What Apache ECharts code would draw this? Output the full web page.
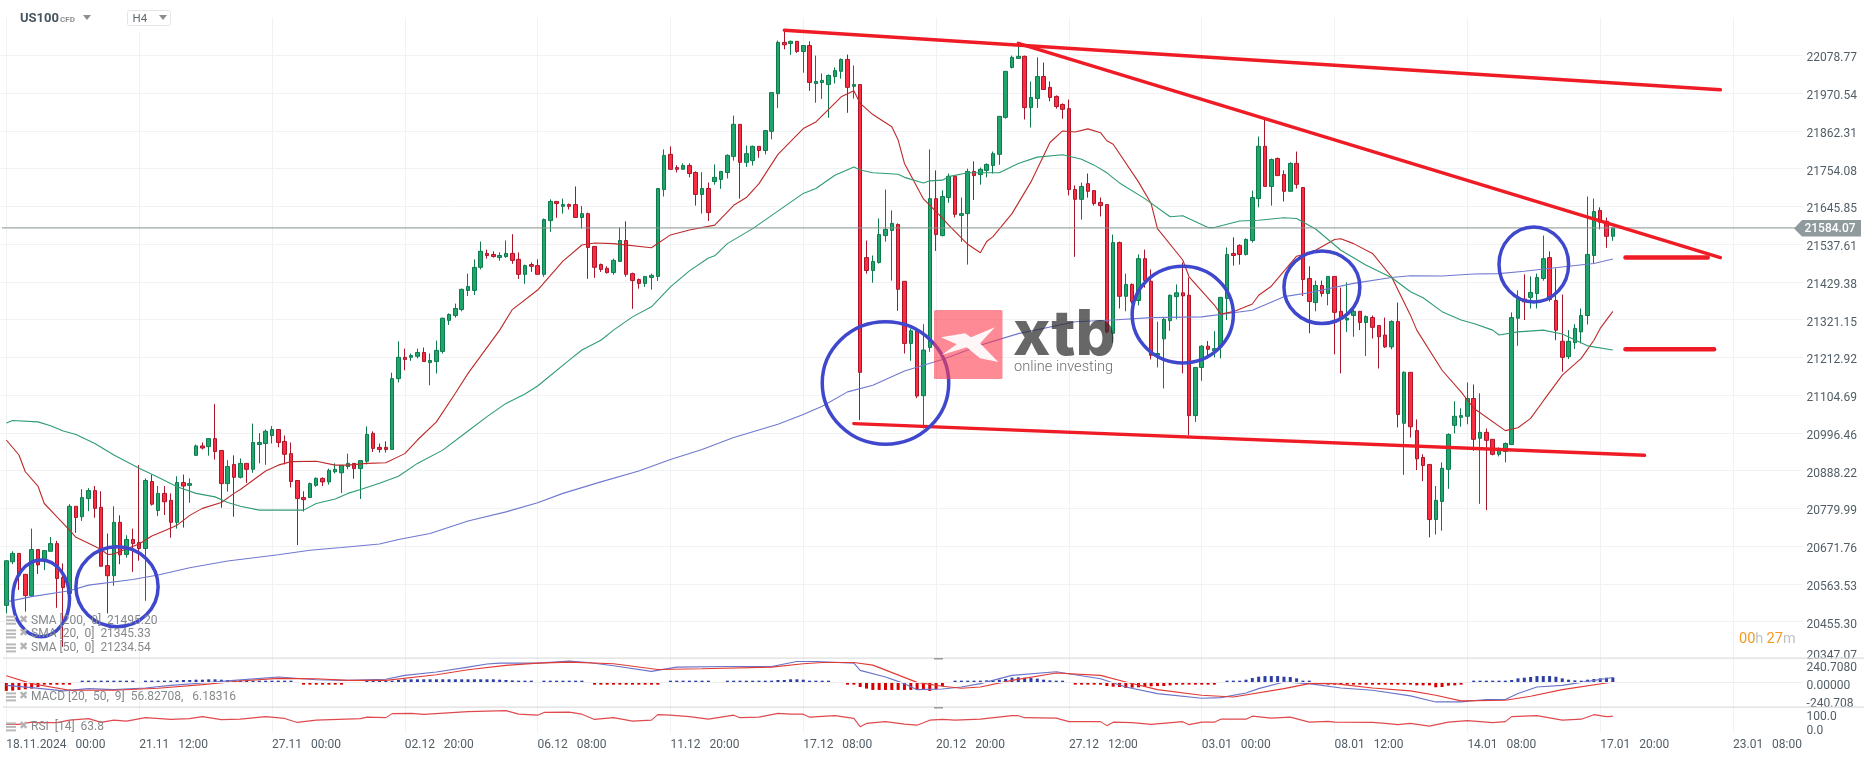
<!DOCTYPE html>
<html>
<head>
<meta charset="utf-8">
<title>US100 H4</title>
<script src="https://cdn.jsdelivr.net/npm/echarts@6/dist/echarts.min.js"></script>
<style>
  html, body { margin: 0; padding: 0; background: #fff; }
  #chart { width: 1866px; height: 759px; }
</style>
</head>
<body>
<div id="chart"></div>
<script>
const tickLabels = ["18.11.2024   00:00", "21.11   12:00", "27.11   00:00", "02.12   20:00", "06.12   08:00", "11.12   20:00", "17.12   08:00", "20.12   20:00", "27.12   12:00", "03.01   00:00", "08.01   12:00", "14.01   08:00", "17.01   20:00", "23.01   08:00"];
const priceLabels = ["20347.07", "20455.30", "20563.53", "20671.76", "20779.99", "20888.22", "20996.46", "21104.69", "21212.92", "21321.15", "21429.38", "21537.61", "21645.85", "21754.08", "21862.31", "21970.54", "22078.77"];
const lastPrice = 21584.07;

const opens = [
  20502,20627,20651,20591,20530,20662,20634,20657,20679,20582,
  20536,20786,20756,20808,20831,20783,20616,20587,20740,20648,
  20691,20682,20665,20857,20774,20823,20803,20740,20854,20846,
  20932,20959,20957,20980,20946,20851,20906,20869,20909,20892,
  20963,20966,20989,21006,20972,20937,20860,20811,20811,20846,
  20866,20856,20885,20882,20900,20909,20894,20915,20995,20955,
  20955,20949,21152,21213,21213,21216,21227,21198,21201,21230,
  21319,21333,21350,21405,21405,21471,21511,21508,21499,21502,
  21511,21494,21451,21479,21476,21451,21605,21660,21646,21651,
  21651,21614,21625,21531,21479,21468,21456,21488,21548,21453,
  21436,21425,21442,21445,21694,21795,21757,21752,21763,21743,
  21680,21697,21717,21723,21743,21789,21881,21772,21777,21818,
  21806,21861,21969,22116,22113,22119,22090,22107,21998,22001,
  21995,22018,22033,22067,21990,21995,21499,21462,21485,21562,
  21577,21594,21431,21253,21289,21103,21241,21668,21562,21671,
  21732,21620,21625,21746,21737,21749,21763,21795,21901,22044,
  22070,22076,21929,21955,22018,21987,21961,21938,21926,21694,
  21666,21711,21691,21657,21651,21282,21542,21388,21422,21376,
  21496,21431,21219,21266,21318,21387,21398,21391,21046,21184,
  21245,21232,21243,21382,21511,21534,21508,21548,21668,21818,
  21703,21783,21737,21689,21769,21700,21439,21370,21419,21396,
  21445,21345,21320,21333,21345,21313,21327,21304,21277,21243,
  21316,21024,21170,21003,20926,20906,20748,20800,20892,21018,
  21041,21044,21095,20981,20998,20978,20935,20943,20963,21325,
  21380,21385,21396,21439,21499,21376,21259,21215,21255,21286,
  21333,21505,21634,21603,21560
];
const closes = [
  20630,20651,20589,20530,20662,20618,20659,20679,20579,20553,
  20786,20754,20811,20831,20780,20614,20587,20740,20647,20691,
  20679,20665,20860,20792,20823,20799,20740,20854,20844,20851,
  20959,20953,20980,20943,20851,20900,20869,20909,20892,20969,
  20969,21001,21006,20969,20935,20857,20808,20805,20851,20866,
  20856,20889,20892,20903,20909,20894,20917,20992,20952,20949,
  20949,21152,21213,21207,21218,21227,21201,21204,21233,21325,
  21336,21353,21408,21416,21471,21517,21505,21502,21505,21511,
  21491,21451,21476,21474,21451,21608,21660,21654,21651,21646,
  21614,21625,21528,21471,21465,21456,21491,21548,21451,21433,
  21425,21445,21448,21697,21792,21752,21752,21763,21740,21680,
  21697,21628,21729,21746,21792,21881,21772,21797,21818,21806,
  21863,21972,22116,22109,22119,22090,22107,22001,22004,22007,
  22021,22035,22067,21987,21995,21170,21462,21488,21565,21580,
  21597,21408,21253,21289,21102,21234,21668,21565,21674,21732,
  21623,21625,21746,21734,21752,21766,21797,21904,22033,22073,
  22076,21929,21958,22018,21981,21958,21932,21924,21694,21666,
  21703,21689,21654,21648,21286,21542,21388,21422,21373,21496,
  21433,21219,21224,21322,21391,21398,21389,21046,21184,21245,
  21236,21238,21385,21508,21505,21508,21551,21671,21818,21703,
  21780,21734,21689,21769,21709,21436,21373,21419,21396,21445,
  21342,21325,21325,21345,21313,21330,21299,21272,21243,21316,
  21049,21170,21014,20922,20903,20748,20803,20895,20992,21044,
  21046,21095,20978,20998,20975,20935,20946,20966,21327,21382,
  21372,21399,21442,21496,21379,21291,21213,21259,21296,21333,
  21508,21631,21600,21560,21584
];
const lows = [
  20479,20620,20546,20484,20527,20592,20603,20657,20495,20383,
  20531,20710,20744,20772,20753,20614,20479,20558,20620,20639,
  20598,20630,20515,20788,20758,20761,20696,20722,20725,20796,
  20932,20949,20931,20920,20782,20828,20756,20866,20853,20882,
  20909,20905,20966,20955,20906,20840,20675,20771,20810,20842,
  20844,20848,20880,20824,20892,20865,20807,20906,20942,20940,
  20940,20949,21141,21176,21203,21210,21200,21133,21167,21224,
  21306,21327,21345,21389,21392,21465,21496,21499,21490,21498,
  21481,21438,21424,21458,21451,21444,21573,21613,21625,21637,
  21613,21582,21438,21441,21458,21453,21450,21488,21444,21352,
  21410,21415,21407,21432,21674,21752,21743,21752,21729,21648,
  21625,21604,21708,21696,21726,21777,21668,21759,21763,21785,
  21795,21838,21928,22096,22080,22086,22029,21977,21943,21954,
  21900,21998,22012,21914,21955,21033,21453,21427,21482,21545,
  21433,21346,21224,21203,21096,21009,21229,21518,21560,21656,
  21614,21544,21479,21664,21708,21729,21740,21765,21897,22041,
  22070,21895,21872,21928,21981,21947,21926,21897,21677,21501,
  21608,21671,21648,21617,21282,21255,21353,21345,21367,21362,
  21413,21207,21184,21124,21289,21322,21167,20990,21028,21146,
  21219,21213,21210,21320,21476,21479,21505,21542,21643,21703,
  21648,21734,21660,21689,21697,21389,21282,21345,21387,21362,
  21222,21167,21286,21272,21291,21217,21267,21181,21240,21236,
  21012,20876,20983,20890,20858,20697,20705,20716,20836,20995,
  21014,21021,20945,20793,20775,20932,20929,20912,20963,21246,
  21320,21353,21353,21433,21373,21262,21172,21208,21237,21253,
  21307,21482,21580,21527,21547
];
const highs = [
  20630,20657,20651,20591,20722,20662,20659,20698,20687,20622,
  20792,20786,20835,20838,20844,20829,20708,20786,20760,20703,
  20722,20904,20866,20877,20844,20844,20823,20872,20877,20866,
  20963,20969,20980,21079,20946,20918,20932,20923,20909,21023,
  20996,21006,21016,21006,20989,20969,20860,20829,20854,20869,
  20869,20894,20909,20903,20937,20909,20917,21015,21001,20966,
  20972,21169,21259,21238,21224,21238,21241,21224,21261,21327,
  21339,21367,21410,21453,21494,21545,21522,21517,21514,21548,
  21566,21514,21479,21485,21494,21611,21666,21660,21668,21654,
  21703,21647,21628,21531,21482,21474,21496,21585,21603,21456,
  21439,21445,21453,21697,21809,21818,21764,21769,21769,21746,
  21744,21714,21766,21746,21795,21906,21881,21820,21820,21818,
  21863,21972,22121,22151,22121,22119,22107,22119,22078,22027,
  22024,22044,22070,22081,22050,21995,21548,21505,21611,21694,
  21634,21597,21431,21296,21289,21308,21809,21749,21692,21740,
  21732,21671,21754,21775,21757,21769,21803,21904,22033,22078,
  22113,22078,22004,22073,22058,22004,21964,21941,21952,21706,
  21714,21740,21691,21671,21651,21565,21545,21453,21425,21508,
  21522,21465,21315,21329,21393,21422,21485,21442,21184,21248,
  21260,21288,21385,21528,21557,21537,21554,21691,21846,21895,
  21783,21786,21749,21772,21803,21700,21474,21433,21433,21445,
  21445,21413,21428,21353,21345,21333,21333,21304,21327,21319,
  21370,21173,21170,21035,20935,20906,20844,20912,20995,21087,
  21067,21141,21135,21110,21009,20978,20955,20969,21342,21405,
  21451,21445,21453,21562,21517,21468,21393,21291,21308,21353,
  21674,21668,21643,21614,21585
];

// moving averages read at [candle number, price]
const sma20 = [[0,20976],[2,20933],[3,20885],[5,20844],[6,20794],[8,20756],[10,20718],[11,20697],[13,20680],[15,20662],[16,20648],[17,20649],[19,20664],[21,20678],[23,20701],[25,20716],[27,20732],[29,20760],[31,20780],[34,20797],[36,20823],[37,20834],[41,20887],[43,20904],[45,20914],[49,20915],[52,20904],[54,20904],[57,20909],[60,20911],[63,20937],[65,20976],[68,21028],[71,21110],[73,21167],[78,21291],[80,21350],[84,21406],[88,21489],[91,21535],[93,21541],[96,21539],[102,21527],[105,21564],[108,21578],[112,21592],[115,21649],[117,21671],[119,21711],[122,21795],[126,21869],[128,21888],[132,21960],[134,21977],[135,21941],[137,21909],[140,21874],[141,21836],[142,21769],[145,21667],[148,21612],[149,21592],[152,21537],[154,21513],[155,21545],[156,21559],[159,21625],[162,21716],[165,21829],[167,21862],[169,21859],[171,21868],[173,21857],[174,21834],[175,21824],[179,21716],[181,21654],[182,21582],[186,21492],[187,21444],[191,21363],[192,21337],[194,21344],[197,21366],[198,21391],[200,21417],[204,21503],[205,21508],[207,21520],[210,21551],[211,21553],[213,21539],[216,21511],[219,21444],[222,21334],[223,21291],[227,21176],[230,21114],[232,21067],[237,21003],[239,21011],[241,21038],[243,21088],[246,21162],[249,21210],[251,21262],[252,21296],[254,21345]];
const sma50 = [[0,21025],[1,21032],[5,21028],[7,21017],[9,21002],[11,20992],[14,20966],[17,20933],[21,20895],[24,20869],[27,20842],[30,20823],[33,20813],[35,20797],[37,20786],[40,20775],[47,20775],[49,20794],[52,20807],[54,20823],[56,20834],[59,20852],[62,20872],[65,20909],[69,20947],[73,21002],[76,21043],[79,21081],[82,21108],[84,21131],[89,21205],[91,21234],[94,21262],[96,21291],[99,21329],[102,21358],[105,21415],[108,21461],[111,21498],[112,21504],[114,21539],[118,21582],[123,21645],[126,21683],[128,21697],[131,21735],[134,21759],[135,21750],[137,21742],[141,21738],[142,21729],[145,21713],[146,21719],[148,21721],[149,21731],[152,21742],[157,21742],[160,21769],[163,21787],[167,21794],[170,21781],[172,21764],[174,21742],[176,21713],[180,21668],[184,21616],[186,21619],[190,21585],[191,21585],[195,21604],[198,21606],[202,21613],[204,21611],[207,21581],[211,21520],[215,21477],[219,21442],[222,21401],[224,21384],[227,21344],[230,21320],[232,21310],[235,21291],[236,21277],[239,21286],[243,21291],[246,21280],[250,21246],[254,21234]];
const sma200 = [[0,20512],[4,20527],[10,20544],[13,20560],[20,20576],[24,20589],[29,20610],[35,20629],[43,20647],[48,20660],[53,20668],[59,20678],[62,20691],[67,20708],[73,20744],[79,20770],[84,20796],[88,20823],[94,20856],[100,20887],[105,20920],[110,20949],[115,20983],[122,21021],[126,21049],[129,21073],[133,21114],[137,21133],[142,21174],[148,21207],[154,21248],[160,21281],[169,21315],[175,21320],[181,21327],[189,21329],[197,21348],[202,21387],[206,21398],[213,21425],[219,21442],[222,21447],[227,21446],[232,21452],[236,21453],[240,21460],[247,21474],[251,21482],[254,21495]];

const macdHist = [
  -111,-107,-98,-89,-80,-58,-22,-18,-13,-13,
  -9,0,9,9,9,9,9,9,9,9,
  9,0,9,13,13,22,27,31,36,36,
  40,40,45,45,40,36,36,31,27,22,
  22,18,13,13,9,9,0,-9,-9,-9,
  -9,-9,-9,-9,0,0,0,9,9,9,
  9,13,36,45,45,45,45,45,45,45,
  45,45,45,45,45,45,45,45,40,36,
  31,18,9,9,0,9,9,9,18,18,
  9,9,0,-9,-9,-18,-27,-22,-27,-27,
  -27,-27,-27,-13,0,9,13,18,18,18,
  13,9,0,0,9,9,9,9,9,9,
  9,9,36,36,45,45,40,27,13,9,
  9,0,0,-9,-9,-58,-80,-98,-98,-98,
  -98,-98,-98,-98,-98,-98,-111,-89,-45,0,
  9,9,13,22,27,31,36,40,49,67,
  71,67,62,54,40,31,22,13,0,-9,
  -9,-13,-18,-27,-45,-54,-58,-71,-67,-62,
  -54,-49,-45,-45,-36,-27,-22,-22,-18,-18,
  -13,-9,0,9,18,27,40,62,80,89,
  89,89,80,76,58,27,9,0,0,-9,
  -9,-13,-18,-18,-18,-13,-18,-13,-13,-13,
  -13,-13,-13,-36,-36,-36,-62,-58,-40,-36,
  -13,0,9,9,9,9,9,9,36,58,
  67,76,89,89,89,80,58,40,31,27,
  40,49,58,67,71
];
const macdLine = [[0,-36],[4,-67],[9,-111],[13,-80],[17,-94],[22,-71],[26,-36],[31,-4],[36,31],[43,76],[49,40],[54,31],[60,45],[63,98],[68,143],[73,209],[76,250],[78,263],[84,263],[89,290],[92,272],[96,227],[102,152],[106,209],[114,218],[121,218],[125,285],[128,285],[134,263],[135,165],[139,76],[142,-13],[144,-94],[148,-85],[151,-58],[154,-13],[159,98],[166,147],[173,53],[177,-58],[182,-147],[189,-209],[192,-201],[196,-138],[198,-80],[202,9],[206,-13],[211,-71],[216,-103],[222,-178],[226,-259],[230,-259],[234,-227],[237,-227],[239,-147],[242,-58],[246,-36],[254,70]];
const macdSignal = [[0,94],[4,-13],[10,-103],[17,-103],[24,-76],[31,-27],[37,22],[43,58],[49,53],[54,31],[60,31],[68,107],[73,174],[79,232],[84,263],[89,276],[96,254],[103,178],[110,187],[121,209],[126,254],[129,272],[134,272],[137,236],[144,4],[148,-49],[151,-76],[154,-58],[159,31],[166,129],[173,98],[177,9],[182,-94],[189,-169],[194,-192],[202,-80],[206,-13],[210,-13],[216,-71],[222,-111],[226,-169],[230,-245],[237,-236],[241,-183],[246,-94],[254,9]];
const rsi = [[0,32],[2,32],[4,41],[5,39],[8,39],[10,49],[13,55],[15,40],[17,49],[19,45],[22,59],[26,52],[29,55],[31,63],[34,51],[37,53],[41,63],[44,56],[46,40],[49,49],[56,55],[57,61],[60,59],[61,75],[64,76],[66,72],[73,83],[79,87],[81,73],[84,69],[85,80],[89,81],[91,73],[93,52],[96,59],[99,45],[102,49],[103,71],[105,69],[108,63],[111,53],[115,69],[116,59],[119,61],[122,76],[124,73],[126,73],[127,61],[131,67],[134,56],[135,23],[136,36],[139,43],[142,33],[144,29],[146,49],[148,52],[150,49],[154,53],[159,67],[160,67],[161,59],[166,57],[168,43],[173,43],[174,27],[175,41],[178,39],[181,32],[186,43],[187,31],[189,41],[191,41],[192,53],[196,53],[197,65],[200,57],[203,61],[206,41],[209,44],[210,41],[216,40],[218,36],[220,31],[222,36],[225,25],[228,41],[231,47],[235,39],[237,43],[238,63],[242,67],[246,49],[249,53],[251,71],[253,63],[254,64]];

// hand drawn marks on the chart: [candle number, price]
const trendTop = [[123,22151],[271,21980]];
const trendFalling = [[160,22113],[271,21499]];
const trendBottom = [[134,21023],[259,20932]];
const levelUpper = [[256,21499],[269,21499]];
const levelLower = [[256,21236],[270,21236]];
// ellipses: [left candle, right candle, top price, bottom price]
const circles = [
  [1,10,20632,20412],
  [11,24,20670,20441],
  [129,149,21315,20964],
  [178,194,21474,21197],
  [202,214,21518,21310],
  [236,247,21587,21372]
];

const PAD = 1; // one empty slot before the first candle
const SLOTS = 286;
const PRICE_MIN = 20347.07;
const PRICE_STEP = 108.23125;
const categories = [];
for (let i = 0; i < SLOTS; i++) categories.push(String(i));
const isTick = (idx) => idx >= PAD && (idx - PAD) % 21 === 0;

const candles = [["-", "-", "-", "-"]];
opens.forEach((o, i) => candles.push([o, closes[i], lows[i], highs[i]]));
const shift = (rows) => rows.map((r) => [r[0] + PAD, r[1]]);

const gridLine = { show: true, lineStyle: { color: "#f1f2f3", width: 1 } };
const FONT = "Roboto";
const textColor = "#525e66";

function xAxis(gridIndex, showLabel) {
  return {
    type: "category",
    gridIndex: gridIndex,
    data: categories,
    boundaryGap: false,
    axisLine: { show: false },
    axisTick: { show: false },
    splitLine: Object.assign({ interval: (idx) => isTick(idx) }, gridLine),
    axisLabel: {
      show: showLabel,
      interval: (idx) => isTick(idx),
      formatter: (v, idx) => tickLabels[(Number(v) - PAD) / 21] || "",
      align: "left",
      margin: 7,
      fontFamily: FONT,
      fontSize: 12,
      color: textColor,
    },
  };
}

function thinLine(name, rows, color, xIdx, width) {
  return {
    name: name,
    type: "line",
    xAxisIndex: xIdx,
    yAxisIndex: xIdx,
    data: shift(rows),
    showSymbol: false,
    silent: true,
    z: 4,
    lineStyle: { color: color, width: width || 1.1 },
  };
}

function drawnLine(rows, width) {
  return {
    type: "line",
    data: shift(rows),
    showSymbol: false,
    silent: true,
    z: 6,
    lineStyle: { color: "#ef1c26", width: width, cap: "round" },
  };
}

const option = {
  animation: false,
  backgroundColor: "#fff",
  grid: [
    { left: 0, width: 1802.6, top: 17.6, height: 641.8 },
    { left: 0, width: 1802.6, top: 658.5, height: 48.7 },
    { left: 0, width: 1802.6, top: 707.4, height: 25 },
  ],
  xAxis: [xAxis(0, false), xAxis(1, false), xAxis(2, true)],
  yAxis: [
    {
      type: "value",
      gridIndex: 0,
      position: "right",
      min: PRICE_MIN,
      max: 22187,
      interval: PRICE_STEP,
      axisLine: { show: false },
      axisTick: { show: false },
      splitLine: Object.assign({ showMaxLine: false, showMinLine: false }, gridLine),
      axisLabel: {
        showMaxLabel: false,
        verticalAlign: "top",
        lineHeight: 6,
        verticalAlignMinLabel: "bottom",
        formatter: (v) => priceLabels[Math.round((v - PRICE_MIN) / PRICE_STEP)] || "",
        margin: 4,
        fontFamily: FONT,
        fontSize: 12,
        color: textColor,
      },
    },
    {
      type: "value",
      gridIndex: 1,
      position: "right",
      min: -330,
      max: 325,
      axisLine: { show: false },
      axisTick: { show: false },
      splitLine: { show: false },
      axisLabel: {
        customValues: [240.708, 0, -240.708],
        formatter: (v) => (v > 0 ? "240.7080" : v < 0 ? "-240.708" : "0.00000"),
        margin: 4,
        verticalAlign: "top",
        lineHeight: 7,
        fontFamily: FONT,
        fontSize: 12,
        color: textColor,
      },
    },
    {
      type: "value",
      gridIndex: 2,
      position: "right",
      min: 0,
      max: 100,
      axisLine: { show: false },
      axisTick: { show: false },
      splitLine: { show: false },
      axisLabel: {
        customValues: [61, 5],
        formatter: (v) => (v > 50 ? "100.0" : "0.0"),
        margin: 4,
        fontFamily: FONT,
        fontSize: 12,
        color: textColor,
      },
    },
  ],
  series: [
    {
      type: "candlestick",
      data: candles,
      barWidth: 4,
      silent: true,
      z: 3,
      itemStyle: {
        color: "#20a66c",
        color0: "#fb2c40",
        borderColor: "#0d7a4c",
        borderColor0: "#a9162b",
        borderWidth: 1,
      },
    },
    thinLine("SMA 200", sma200, "#7079cf", 0),
    thinLine("SMA 20", sma20, "#bd2a2a", 0),
    thinLine("SMA 50", sma50, "#2f9c72", 0),
    drawnLine(trendTop, 3.5),
    drawnLine(trendFalling, 3.5),
    drawnLine(trendBottom, 3.5),
    drawnLine(levelUpper, 4.5),
    drawnLine(levelLower, 4.5),
    {
      type: "custom",
      data: circles.map((c) => [c[0] + PAD, c[1] + PAD, c[2], c[3]]),
      encode: { x: [0, 1], y: [2, 3] },
      silent: true,
      z: 7,
      clip: false,
      renderItem: (params, api) => {
        const a = api.coord([api.value(0), api.value(2)]);
        const b = api.coord([api.value(1), api.value(3)]);
        return {
          type: "ellipse",
          shape: {
            cx: (a[0] + b[0]) / 2,
            cy: (a[1] + b[1]) / 2,
            rx: Math.abs(b[0] - a[0]) / 2,
            ry: Math.abs(b[1] - a[1]) / 2,
          },
          style: { fill: "none", stroke: "#3f48cc", lineWidth: 3.5 },
        };
      },
    },
    {
      // current price line with its tag on the axis
      type: "custom",
      data: [[254 + PAD, lastPrice]],
      encode: { x: 0, y: 1 },
      silent: true,
      z: 5,
      clip: false,
      renderItem: (params, api) => {
        const y = api.coord([0, api.value(1)])[1];
        return {
          type: "group",
          children: [
            { type: "line", shape: { x1: 2, y1: y, x2: 1795, y2: y }, style: { stroke: "#87918f", lineWidth: 1 } },
            {
              type: "polygon",
              shape: { points: [[1794, y + 0.5], [1802, y - 8], [1861, y - 8], [1861, y + 8.5], [1802, y + 8.5]] },
              style: { fill: "#8f9a9c" },
            },
            {
              type: "text",
              style: {
                x: 1830,
                y: y + 1,
                text: api.value(1).toFixed(2),
                fill: "#fff",
                font: "500 12px Roboto",
                align: "center",
                verticalAlign: "middle",
              },
            },
          ],
        };
      },
    },
    {
      name: "MACD hist",
      type: "bar",
      xAxisIndex: 1,
      yAxisIndex: 1,
      barWidth: 3,
      barMinHeight: 2,
      silent: true,
      data: ["-"].concat(macdHist.map((v) => (v === 0 ? "-" : { value: v, itemStyle: { color: v > 0 ? "#2c3ea6" : "#d60000" } }))),
      markLine: {
        silent: true,
        symbol: "none",
        label: { show: false },
        lineStyle: { color: "#eceeef", width: 1, type: "solid" },
        data: [{ yAxis: 0 }],
      },
    },
    thinLine("MACD", macdLine, "#6a74c9", 1),
    thinLine("Signal", macdSignal, "#e23b36", 1),
    thinLine("RSI", rsi, "#e0494e", 2),
  ],
  graphic: [
    // panel separators and their drag handles
    { type: "rect", z: 20, shape: { x: 3, y: 657.5, width: 1861, height: 1.2 }, style: { fill: "#dcdede" } },
    { type: "rect", z: 20, shape: { x: 3, y: 706.6, width: 1861, height: 1.2 }, style: { fill: "#dcdede" } },
    { type: "rect", z: 20, shape: { x: 934, y: 658, width: 9, height: 1.5 }, style: { fill: "#999" } },
    { type: "rect", z: 20, shape: { x: 934, y: 707, width: 9, height: 1.5 }, style: { fill: "#999" } },

    // header
    { type: "rect", z: 20, shape: { x: 127, y: 8, width: 45, height: 24 }, style: { fill: "#fff" } },
    { type: "rect", z: 21, shape: { x: 127.5, y: 10.5, width: 43, height: 15, r: 2 }, style: { fill: "#fff", stroke: "#e4e6e6", lineWidth: 1 } },
    { type: "text", z: 21, style: { x: 20, y: 19, text: "US100", fill: "#46555f", font: "bold 13px Roboto", verticalAlign: "middle" } },
    { type: "text", z: 21, style: { x: 60, y: 19.5, text: "CFD", fill: "#8c8f91", font: "bold 8px Roboto", verticalAlign: "middle" } },
    { type: "polygon", z: 21, shape: { points: [[83, 15], [91, 15], [87, 20]] }, style: { fill: "#8d8d8d" } },
    { type: "text", z: 21, style: { x: 132.5, y: 19.5, text: "H4", fill: "#5f6a70", font: "11.5px Roboto", verticalAlign: "middle" } },
    { type: "polygon", z: 21, shape: { points: [[159, 15], [167, 15], [163, 20]] }, style: { fill: "#8d8d8d" } },

    // indicator legends
    ...[
      ["SMA [200,  0]  21495.20", 620.7],
      ["SMA [20,  0]  21345.33", 634.4],
      ["SMA [50,  0]  21234.54", 648.4],
      ["MACD [20,  50,  9]  56.82708,   6.18316", 697.4],
      ["RSI  [14]  63.8", 727.4],
    ].flatMap(([label, y]) => [
      { type: "rect", z: 8, shape: { x: 6, y: y - 5, width: 10, height: 2 }, style: { fill: "#b9b9b9" } },
      { type: "rect", z: 8, shape: { x: 6, y: y - 1.5, width: 10, height: 2 }, style: { fill: "#b9b9b9" } },
      { type: "rect", z: 8, shape: { x: 6, y: y + 2, width: 10, height: 2 }, style: { fill: "#b9b9b9" } },
      { type: "text", z: 8, style: { x: 19, y: y - 1, text: "✖", fill: "#b4b4b4", font: "11px 'DejaVu Sans'", verticalAlign: "middle" } },
      { type: "text", z: 8, style: { x: 31, y: y, text: label, fill: "#85898b", font: "12px Roboto", verticalAlign: "middle" } },
    ]),

    // countdown
    {
      type: "text",
      z: 21,
      style: {
        x: 1739,
        y: 639,
        verticalAlign: "middle",
        text: "{o|00}{g|h} {o|27}{g|m}",
        rich: {
          o: { fill: "#f7981d", font: "14.5px Roboto" },
          g: { fill: "#bfc3c5", font: "14.5px Roboto" },
        },
      },
    },

    // watermark
    { type: "rect", z: 18, shape: { x: 934, y: 310, width: 68.5, height: 69, r: 1.5 }, style: { fill: "rgba(252,60,78,0.6)" } },
    {
      type: "polygon",
      z: 19,
      shape: { points: [[941, 337.3], [965, 333.3], [971, 337.3], [995, 327.3], [980, 343.3], [998.3, 362], [980, 358.3], [966.7, 347.3], [941.7, 355], [956.7, 344.3]] },
      style: { fill: "rgba(255,255,255,0.92)" },
    },
    { type: "text", z: 19, style: { x: 1013, y: 336, text: "xtb", fill: "rgba(45,45,45,0.72)", font: "800 63px Inter", verticalAlign: "middle" } },
    { type: "text", z: 19, style: { x: 1014, y: 367, text: "online investing", fill: "rgba(70,70,70,0.78)", font: "300 14.6px Roboto", verticalAlign: "middle" } },
  ],
};

const chart = echarts.init(document.getElementById("chart"), null, { renderer: "canvas" });
chart.setOption(option);
</script>
</body>
</html>
